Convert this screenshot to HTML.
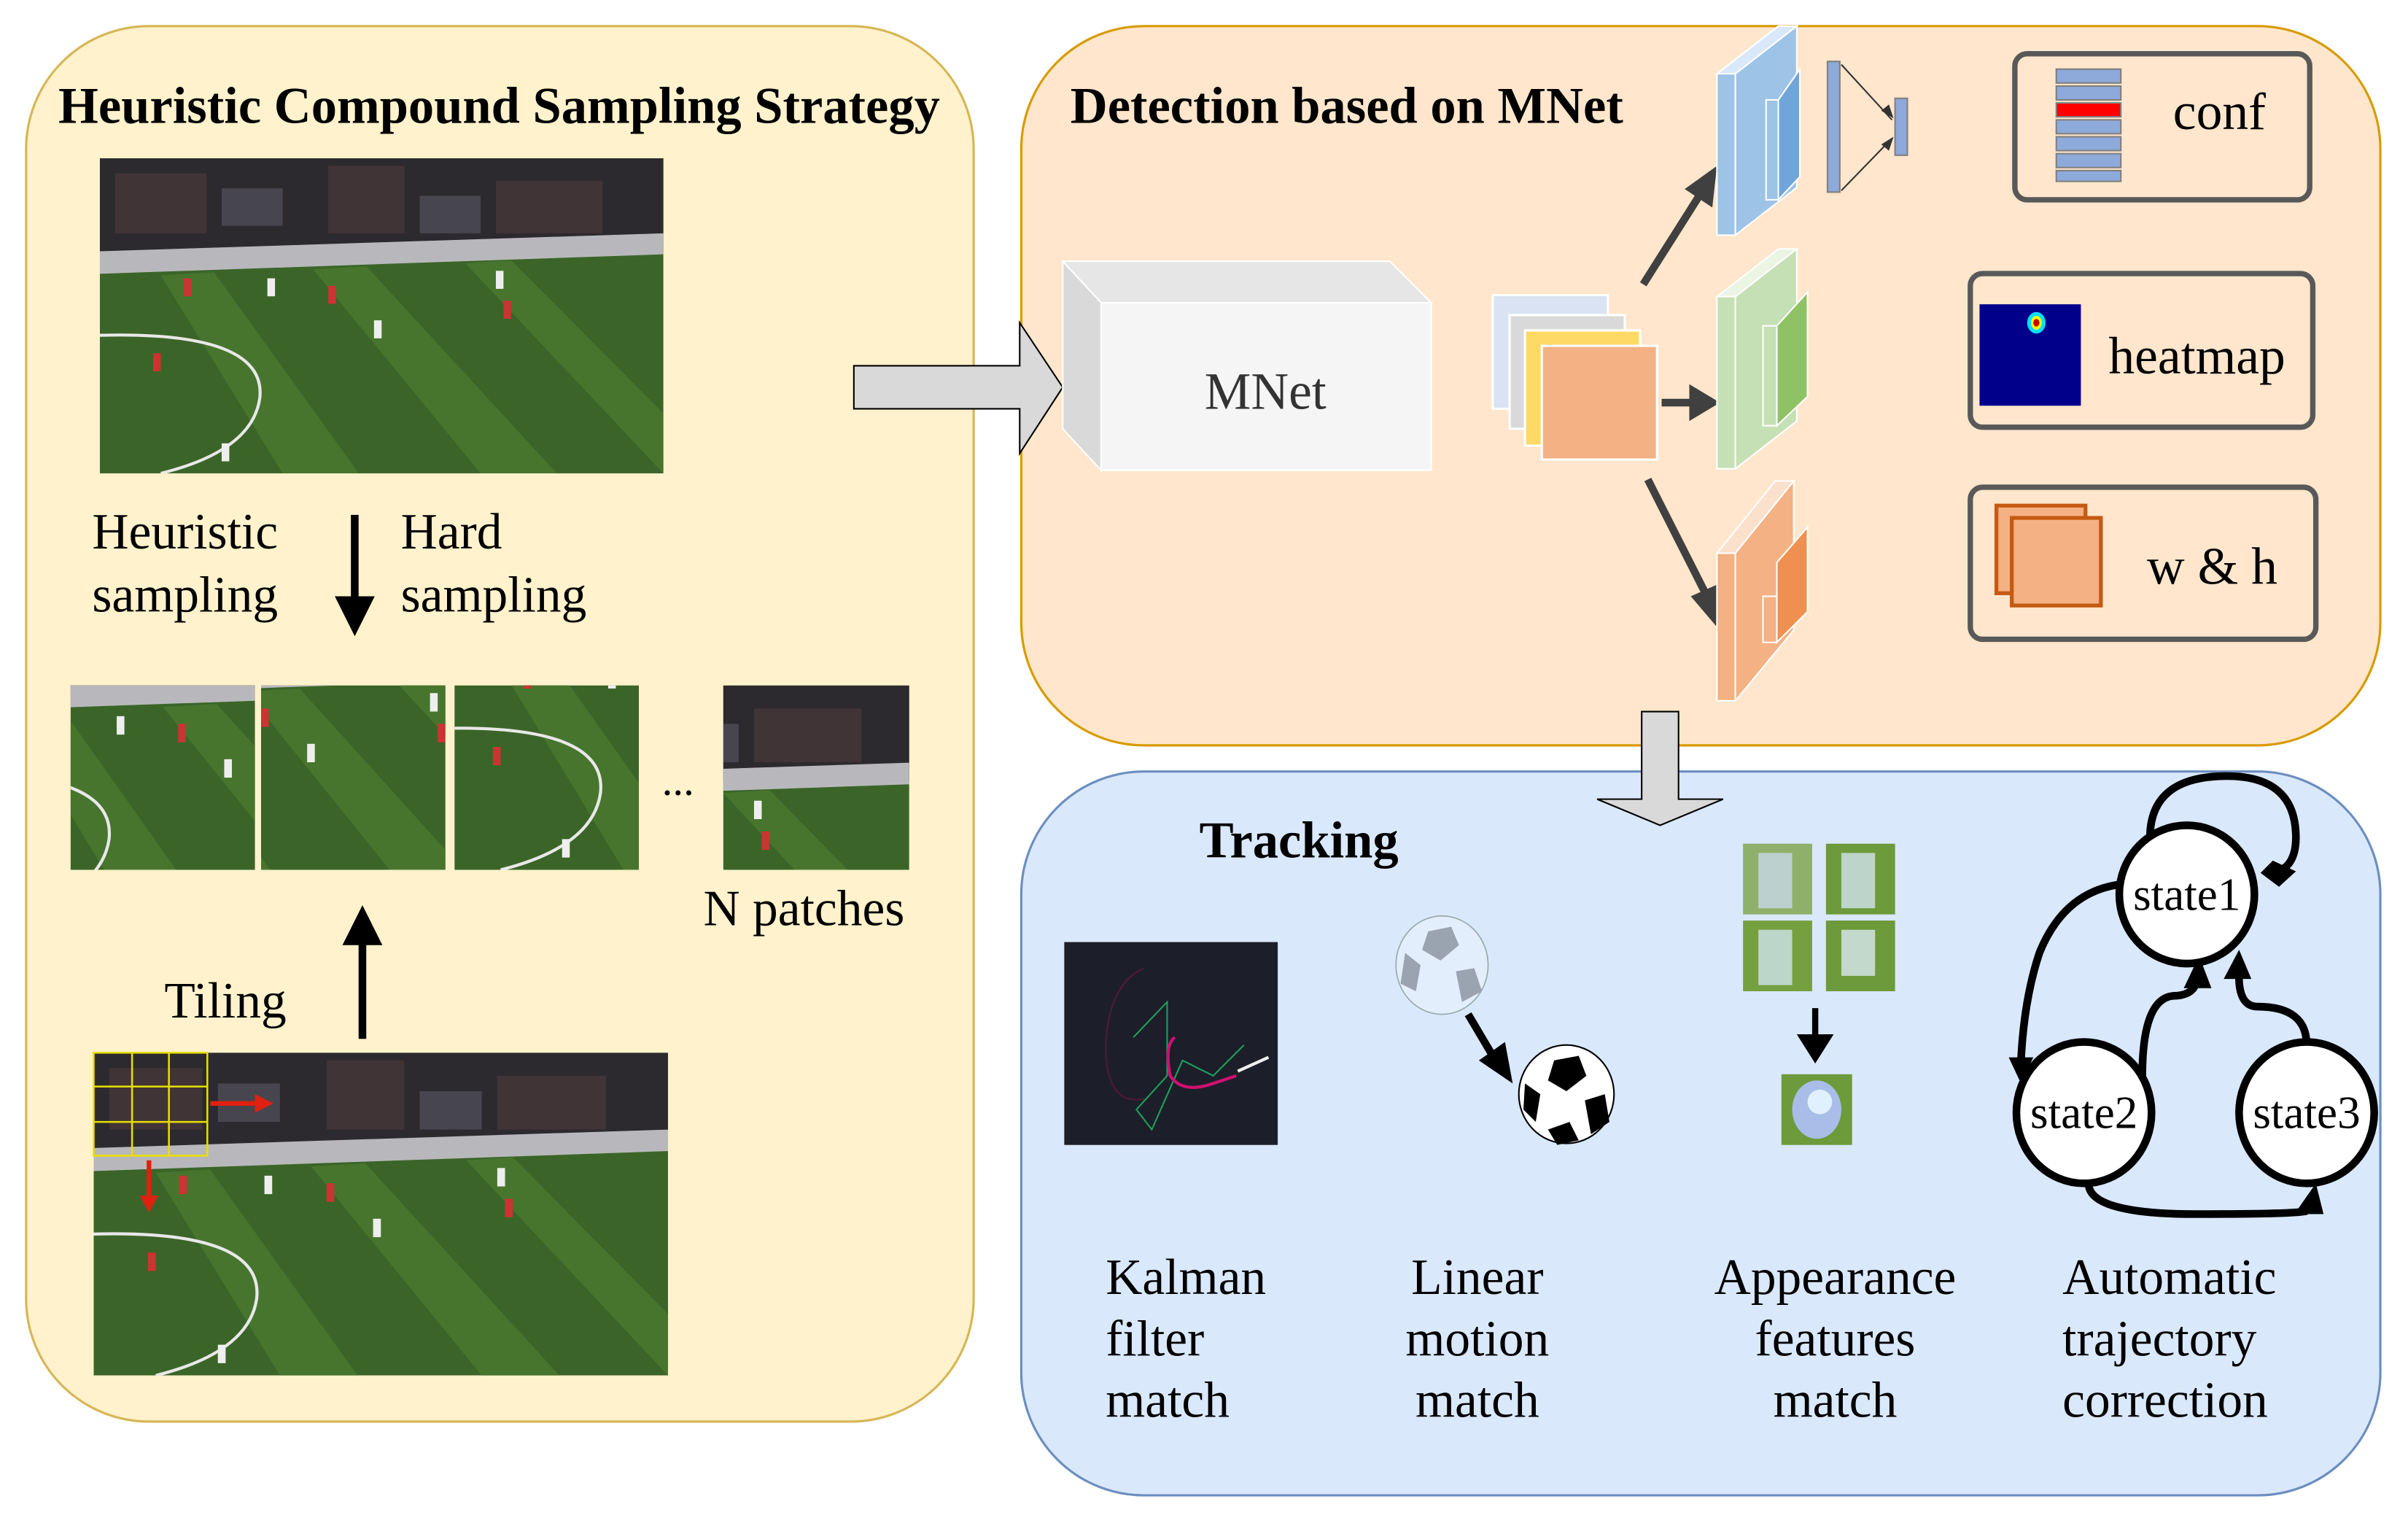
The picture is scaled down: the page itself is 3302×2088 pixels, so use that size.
<!DOCTYPE html>
<html><head><meta charset="utf-8"><style>
html,body{margin:0;padding:0;background:#fff;}
svg{display:block;}
text{font-family:"Liberation Serif",serif;}
</style></head><body>
<svg width="3302" height="2088" viewBox="0 0 1568 991" preserveAspectRatio="none" xmlns="http://www.w3.org/2000/svg">
<defs>
<symbol id="field" viewBox="0 0 370 210" preserveAspectRatio="none">
<rect width="370" height="210" fill="#3b6528"/>
<rect width="370" height="62" fill="#2c2a2e"/>
<g fill="#5a4040" opacity="0.45"><rect x="10" y="10" width="60" height="40"/><rect x="150" y="5" width="50" height="45"/><rect x="260" y="15" width="70" height="35"/></g>
<g fill="#7a7a8a" opacity="0.35"><rect x="80" y="20" width="40" height="25"/><rect x="210" y="25" width="40" height="25"/></g>
<polygon points="0,62 370,50 370,64 0,77" fill="#b8b8bc"/>
<g fill="#47752e"><polygon points="40,78 75,76 170,210 120,210"/><polygon points="140,74 175,72 300,210 250,210"/><polygon points="240,70 270,68 370,170 370,210"/></g>
<path d="M0,118 Q110,115 105,160 Q100,195 40,210" fill="none" stroke="#e8e8e8" stroke-width="2"/>
<g fill="#c33"><rect x="55" y="80" width="5" height="12"/><rect x="150" y="85" width="5" height="12"/><rect x="265" y="95" width="5" height="12"/><rect x="35" y="130" width="5" height="12"/></g>
<g fill="#eee"><rect x="110" y="80" width="5" height="12"/><rect x="180" y="108" width="5" height="12"/><rect x="260" y="75" width="5" height="12"/><rect x="80" y="190" width="5" height="12"/></g>
</symbol>
</defs>

<!-- Left panel -->
<rect x="17" y="17" width="617" height="908" rx="80" fill="#fff2cc" stroke="#d6b656" stroke-width="1.5"/>
<text x="38" y="80" font-size="33.5" font-weight="bold">Heuristic Compound Sampling Strategy</text>
<use href="#field" x="65" y="103" width="367" height="205"/>
<text x="60" y="357" font-size="33">Heuristic</text>
<text x="60" y="398" font-size="33">sampling</text>
<text x="261" y="357" font-size="33">Hard</text>
<text x="261" y="398" font-size="33">sampling</text>
<line x1="231" y1="335" x2="231" y2="392" stroke="#000" stroke-width="5"/>
<polygon points="218,388 244,388 231,414" fill="#000"/>
<svg x="46" y="446" width="120" height="120" viewBox="80 60 120 120" preserveAspectRatio="none"><use href="#field" width="370" height="210"/></svg>
<svg x="170" y="446" width="120" height="120" viewBox="150 70 120 120" preserveAspectRatio="none"><use href="#field" width="370" height="210"/></svg>
<svg x="296" y="446" width="120" height="120" viewBox="10 90 120 120" preserveAspectRatio="none"><use href="#field" width="370" height="210"/></svg>
<svg x="471" y="446" width="121" height="120" viewBox="240 0 121 120" preserveAspectRatio="none"><use href="#field" width="370" height="210"/></svg>
<text x="431" y="517" font-size="28">...</text>
<text x="458" y="602" font-size="33">N patches</text>
<text x="107" y="662" font-size="33">Tiling</text>
<line x1="236" y1="676" x2="236" y2="612" stroke="#000" stroke-width="5"/>
<polygon points="223,615 249,615 236,589" fill="#000"/>
<use href="#field" x="61" y="685" width="374" height="210"/>
<g stroke="#e8e000" stroke-width="1.2" fill="none"><rect x="61" y="685" width="74" height="67"/><line x1="86" y1="685" x2="86" y2="752"/><line x1="110" y1="685" x2="110" y2="752"/><line x1="61" y1="707" x2="135" y2="707"/><line x1="61" y1="730" x2="135" y2="730"/></g>
<line x1="137" y1="718" x2="168" y2="718" stroke="#e02010" stroke-width="3"/><polygon points="166,712 178,718 166,724" fill="#e02010"/>
<line x1="97" y1="755" x2="97" y2="780" stroke="#e02010" stroke-width="3"/><polygon points="91,778 103,778 97,789" fill="#e02010"/>

<!-- Detection panel -->
<rect x="665" y="17" width="885" height="468" rx="80" fill="#ffe6cc" stroke="#d79b00" stroke-width="1.5"/>
<!-- Big right arrow -->
<polygon points="556,238 664,238 664,210 692,252 664,295 664,266 556,266" fill="#d9d9d9" stroke="#000" stroke-width="1"/>
<text x="697" y="80" font-size="33.5" font-weight="bold">Detection based on MNet</text>
<polygon points="692,170 905,170 932,197 717,197" fill="#e6e6e6" stroke="#fff" stroke-width="1"/>
<polygon points="692,170 717,197 717,306 692,279" fill="#d9d9d9" stroke="#fff" stroke-width="1"/>
<rect x="717" y="197" width="215" height="109" fill="#f5f5f5" stroke="#fff"/>
<text x="824" y="266" font-size="34" text-anchor="middle" fill="#333">MNet</text>
<rect x="972" y="192" width="75" height="74" fill="#dae3f3" stroke="#fff" stroke-width="1.5"/>
<rect x="983" y="205" width="75" height="74" fill="#d9d9d9" stroke="#fff" stroke-width="1.5"/>
<rect x="993" y="215" width="75" height="75" fill="#ffd966" stroke="#fff" stroke-width="1.5"/>
<rect x="1004" y="225" width="75" height="74" fill="#f4b183" stroke="#fff" stroke-width="1.5"/>
<g stroke="#404040" stroke-width="5"><line x1="1070" y1="185" x2="1108" y2="125"/><line x1="1082" y1="262" x2="1105" y2="262"/><line x1="1073" y1="312" x2="1110" y2="385"/></g>
<polygon points="1118,108 1115,135 1097,123" fill="#404040"/>
<polygon points="1120,262 1100,250 1100,274" fill="#404040"/>
<polygon points="1118,408 1101,388 1119,380" fill="#404040"/>
<!-- blue layers -->
<polygon points="1118,48 1130,48 1170,17 1158,17" fill="#dae8fc" stroke="#fff"/>
<rect x="1118" y="48" width="12" height="105" fill="#9dc3e6" stroke="#fff"/>
<polygon points="1130,48 1170,17 1170,122 1130,153" fill="#9dc3e6" stroke="#fff"/>
<rect x="1150" y="65" width="8" height="65" fill="#9dc3e6" stroke="#fff"/>
<polygon points="1158,65 1172,45 1172,115 1158,130" fill="#6fa5d8" stroke="#fff"/>
<!-- green -->
<polygon points="1118,193 1130,193 1170,162 1158,162" fill="#ebf5e4" stroke="#fff"/>
<rect x="1118" y="193" width="12" height="112" fill="#c5e0b4" stroke="#fff"/>
<polygon points="1130,193 1170,162 1170,274 1130,305" fill="#c5e0b4" stroke="#fff"/>
<rect x="1148" y="212" width="9" height="65" fill="#c5e0b4" stroke="#fff"/>
<polygon points="1157,212 1177,190 1177,258 1157,277" fill="#8ec265" stroke="#fff"/>
<!-- orange -->
<polygon points="1118,360 1130,360 1168,313 1156,313" fill="#fbe1cc" stroke="#fff"/>
<rect x="1118" y="360" width="12" height="96" fill="#f4b183" stroke="#fff"/>
<polygon points="1130,360 1168,313 1168,410 1130,456" fill="#f4b183" stroke="#fff"/>
<rect x="1148" y="388" width="9" height="30" fill="#f4b183" stroke="#fff"/>
<polygon points="1157,366 1177,343 1177,398 1157,418" fill="#ef9050" stroke="#fff"/>
<!-- FC -->
<rect x="1190" y="40" width="8" height="85" fill="#8eaadb" stroke="#7f7f7f"/>
<rect x="1234" y="64" width="8" height="37" fill="#8eaadb" stroke="#7f7f7f"/>
<g stroke="#333" stroke-width="1"><line x1="1199" y1="42" x2="1232" y2="78"/><line x1="1199" y1="124" x2="1232" y2="90"/></g>
<polygon points="1233,77 1225,72 1230,68" fill="#333"/><polygon points="1233,89 1225,94 1230,98" fill="#333"/>
<!-- conf -->
<rect x="1312" y="35" width="192" height="95" rx="8" fill="none" stroke="#595959" stroke-width="3.5"/>
<g fill="#8eaadb" stroke="#7f7f7f" stroke-width="1"><rect x="1339" y="45" width="42" height="9"/><rect x="1339" y="56" width="42" height="9"/><rect x="1339" y="78" width="42" height="9"/><rect x="1339" y="89" width="42" height="9"/><rect x="1339" y="100" width="42" height="9"/><rect x="1339" y="111" width="42" height="7"/></g>
<rect x="1339" y="67" width="42" height="9" fill="#f00" stroke="#7f7f7f"/>
<text x="1415" y="84" font-size="34">conf</text>
<!-- heatmap -->
<rect x="1283" y="178" width="223" height="100" rx="8" fill="none" stroke="#595959" stroke-width="3.5"/>
<rect x="1289" y="198" width="66" height="66" fill="#00008b"/>
<ellipse cx="1326" cy="210" rx="6" ry="7" fill="#00e0ff"/><ellipse cx="1326" cy="210" rx="3.5" ry="4.5" fill="#ff0"/><ellipse cx="1326" cy="210" rx="2" ry="2.5" fill="#c00"/>
<text x="1373" y="243" font-size="34">heatmap</text>
<!-- w&h -->
<rect x="1283" y="317" width="225" height="99" rx="8" fill="none" stroke="#595959" stroke-width="3.5"/>
<rect x="1300" y="329" width="58" height="57" fill="#f4b183" stroke="#c55a11" stroke-width="2.5"/>
<rect x="1310" y="337" width="58" height="57" fill="#f4b183" stroke="#c55a11" stroke-width="2.5"/>
<text x="1398" y="380" font-size="34">w &amp; h</text>

<!-- Tracking panel -->
<rect x="665" y="502" width="885" height="471" rx="80" fill="#dae8fc" stroke="#6c8ebf" stroke-width="1.5"/>
<polygon points="1069,463 1093,463 1093,520 1122,520 1081,537 1040,520 1069,520" fill="#d9d9d9" stroke="#000" stroke-width="1"/>
<text x="781" y="558" font-size="33.5" font-weight="bold">Tracking</text>
<rect x="693" y="613" width="139" height="132" fill="#1c1e2a"/>
<path d="M745,630 Q722,640 720,680 Q720,720 745,715" fill="none" stroke="#4a1a35" stroke-width="1.2"/>
<path d="M738,675 L760,652 L760,700 L740,722 L750,735 L770,690 L790,700 L810,680" fill="none" stroke="#1e9f5e" stroke-width="1"/>
<path d="M765,675 Q758,680 762,700 Q770,712 790,705 L805,700" fill="none" stroke="#d01070" stroke-width="2"/>
<line x1="806" y1="697" x2="826" y2="688" stroke="#eee" stroke-width="2"/>
<!-- balls -->
<ellipse cx="939" cy="628" rx="30" ry="32" fill="#e3eefc" stroke="#9aa" stroke-width="0.8"/>
<g fill="#9aa3b0"><polygon points="930,606 945,603 950,615 938,625 926,618"/><polygon points="915,620 925,628 922,645 912,640"/><polygon points="948,632 960,630 965,645 952,652"/></g>
<line x1="956" y1="660" x2="975" y2="692" stroke="#000" stroke-width="5"/>
<polygon points="985,705 963,690 980,678" fill="#000"/>
<ellipse cx="1020" cy="712" rx="31" ry="32" fill="#fff" stroke="#000" stroke-width="1"/>
<g fill="#000"><polygon points="1012,690 1028,687 1033,700 1020,710 1008,703"/><polygon points="993,705 1003,712 1000,730 992,722"/><polygon points="1032,716 1045,712 1048,730 1036,738"/><polygon points="1008,735 1022,730 1028,742 1014,745"/></g>
<!-- appearance -->
<rect x="1135" y="549" width="45" height="46" fill="#8eb06a"/><rect x="1145" y="555" width="22" height="36" fill="#c8d8e8" opacity="0.8"/>
<rect x="1189" y="549" width="45" height="46" fill="#6d9a3a"/><rect x="1199" y="555" width="22" height="36" fill="#d0e2ee" opacity="0.8"/>
<rect x="1135" y="599" width="45" height="46" fill="#75a040"/><rect x="1145" y="605" width="22" height="36" fill="#d0e4ec" opacity="0.8"/>
<rect x="1189" y="599" width="45" height="46" fill="#6d9a3a"/><rect x="1199" y="605" width="22" height="30" fill="#d8e8f0" opacity="0.8"/>
<line x1="1182" y1="656" x2="1182" y2="678" stroke="#000" stroke-width="4"/>
<polygon points="1170,673 1194,673 1182,692" fill="#000"/>
<rect x="1160" y="699" width="46" height="46" fill="#6d9a3a"/><ellipse cx="1183" cy="722" rx="16" ry="19" fill="#a8bee8"/><ellipse cx="1185" cy="717" rx="8" ry="8" fill="#e0f0ff"/>
<!-- states -->
<g fill="none" stroke="#000" stroke-width="5">
<path d="M1400,545 Q1400,505 1450,505 Q1495,505 1495,545 Q1495,565 1480,568"/>
<path d="M1385,575 Q1345,578 1328,620 Q1318,650 1316,690"/>
<path d="M1395,700 Q1395,650 1415,648 Q1427,648 1430,640"/>
<path d="M1502,680 Q1502,655 1470,655 Q1457,655 1458,632"/>
<path d="M1360,770 Q1360,790 1430,790 Q1495,790 1502,788"/>
</g>
<polygon points="1495,567 1480,560 1472,568 1484,577" fill="#000"/>
<polygon points="1308,688 1324,688 1316,705" fill="#000"/>
<polygon points="1432,622 1422,643 1440,643" fill="#000"/>
<polygon points="1458,618 1448,637 1466,637" fill="#000"/>
<polygon points="1508,770 1494,790 1513,790" fill="#000"/>
<g fill="#fff" stroke="#000" stroke-width="5">
<ellipse cx="1424" cy="582" rx="44" ry="45"/>
<ellipse cx="1357" cy="724" rx="44" ry="46"/>
<ellipse cx="1502" cy="724" rx="44" ry="46"/>
</g>
<text x="1424" y="592" font-size="30" text-anchor="middle">state1</text>
<text x="1357" y="734" font-size="30" text-anchor="middle">state2</text>
<text x="1502" y="734" font-size="30" text-anchor="middle">state3</text>
<!-- bottom labels -->
<g font-size="33">
<text x="720" y="842">Kalman</text><text x="720" y="882">filter</text><text x="720" y="922">match</text>
<text x="962" y="842" text-anchor="middle">Linear</text><text x="962" y="882" text-anchor="middle">motion</text><text x="962" y="922" text-anchor="middle">match</text>
<text x="1195" y="842" text-anchor="middle">Appearance</text><text x="1195" y="882" text-anchor="middle">features</text><text x="1195" y="922" text-anchor="middle">match</text>
<text x="1343" y="842">Automatic</text><text x="1343" y="882">trajectory</text><text x="1343" y="922">correction</text>
</g>
</svg>
</body></html>
